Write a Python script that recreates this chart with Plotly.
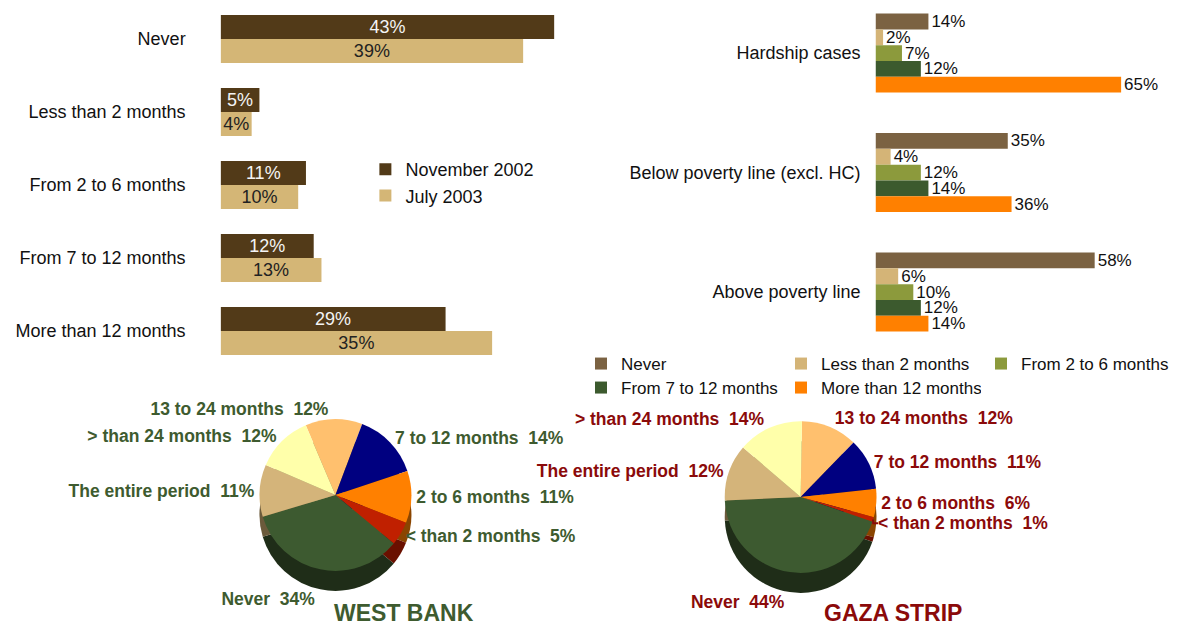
import plotly.graph_objects as go

# ---------------- data ----------------
# Top-left: duration categories, two surveys
duration_cats = ["Never", "Less than 2 months", "From 2 to 6 months",
                 "From 7 to 12 months", "More than 12 months"]
nov_2002 = [43, 5, 11, 12, 29]
jul_2003 = [39, 4, 10, 13, 35]

# Top-right: by poverty status
poverty_cats = ["Hardship cases", "Below poverty line (excl. HC)", "Above poverty line"]
pov_series_names = ["Never", "Less than 2 months", "From 2 to 6 months",
                    "From 7 to 12 months", "More than 12 months"]
pov_never = [14, 35, 58]
pov_lt2 = [2, 4, 6]
pov_2to6 = [7, 12, 10]
pov_7to12 = [12, 14, 12]
pov_gt12 = [65, 36, 14]

# Pies
pie_labels = ["13 to 24 months", "7 to 12 months", "2 to 6 months",
              "< than 2 months", "Never", "The entire period", "> than 24 months"]
west_bank = [12, 14, 11, 5, 34, 11, 12]
gaza_strip = [12, 11, 6, 1, 44, 12, 14]

# ---------------- styles ----------------
FONT = "Liberation Sans, Arial, sans-serif"
W, H = 1181, 626
NOV_COLOR = "#523A18"
JUL_COLOR = "#D4B676"
pov_colors = ["#7B6242", "#D4B477", "#8C9A3C", "#3C5A2E", "#FF8000"]
pie_colors = ["#FFC06E", "#000080", "#FF8000", "#C02000", "#3D5A30", "#D4B47A", "#FFFFAA"]
shadow_colors = ["#8A6A3A", "#00004A", "#8A4500", "#6A1000", "#1F2D18", "#6B5A3B", "#8A8A5A"]
WB_COLOR = "#3E5B2F"
GZ_COLOR = "#8B0A0A"
PIE_LABEL_SIZE = 17.5


def px_x(p):
    return p / W


def px_y(p):
    return 1 - p / H


fig = go.Figure()

# ---- top-left bars ----
fig.add_trace(go.Bar(
    y=duration_cats, x=nov_2002, orientation="h", name="November 2002",
    marker=dict(color=NOV_COLOR, line=dict(width=0)),
    texttemplate="%{x}%", textposition="inside", insidetextanchor="middle",
    textfont=dict(color="#F4F4F4", size=18, family=FONT),
    constraintext="none", xaxis="x", yaxis="y", legend="legend"))
fig.add_trace(go.Bar(
    y=duration_cats, x=jul_2003, orientation="h", name="July 2003",
    marker=dict(color=JUL_COLOR, line=dict(width=0)),
    texttemplate="%{x}%", textposition="inside", insidetextanchor="middle",
    textfont=dict(color="#222222", size=18, family=FONT),
    constraintext="none", xaxis="x", yaxis="y", legend="legend"))

# ---- top-right bars ----
pov_values = [pov_never, pov_lt2, pov_2to6, pov_7to12, pov_gt12]
pov_legends = ["legend2", "legend2", "legend2", "legend3", "legend3"]
for name, vals, col, lg in zip(pov_series_names, pov_values, pov_colors, pov_legends):
    fig.add_trace(go.Bar(
        y=poverty_cats, x=vals, orientation="h", name=name,
        marker=dict(color=col, line=dict(width=0)),
        texttemplate="%{x}%", textposition="outside",
        textfont=dict(color="#111111", size=17, family=FONT),
        constraintext="none", cliponaxis=False,
        xaxis="x2", yaxis="y2", legend=lg))

# ---- pies ----
def pie_domain(cx, cy, r, dy=0):
    return dict(x=[px_x(cx - r), px_x(cx + r)], y=[px_y(cy + dy + r), px_y(cy + dy - r)])


TEMPLATE = "%{label}\u00a0 %{value}%"
# the bottom slice ("Never") is labelled from the depth layer so that its label
# sits below the pie's side; all other slices are labelled from the top face
top_templates = ["" if lab == "Never" else TEMPLATE for lab in pie_labels]
depth_templates = [TEMPLATE if lab == "Never" else "" for lab in pie_labels]

for vals, cx, cy, rot, col in [(west_bank, 336, 495, -23, WB_COLOR),
                               (gaza_strip, 802, 497, 1, GZ_COLOR)]:
    r = 76
    # depth (side) layer
    fig.add_trace(go.Pie(
        labels=pie_labels, values=vals, sort=False, direction="clockwise",
        rotation=rot, domain=pie_domain(cx, cy, r, dy=20),
        marker=dict(colors=shadow_colors, line=dict(width=0)),
        texttemplate=depth_templates, textposition="outside",
        outsidetextfont=dict(color=col, size=PIE_LABEL_SIZE, family=FONT, weight=700),
        hoverinfo="skip", showlegend=False))
    # top face
    fig.add_trace(go.Pie(
        labels=pie_labels, values=vals, sort=False, direction="clockwise",
        rotation=rot, domain=pie_domain(cx, cy, r),
        marker=dict(colors=pie_colors, line=dict(width=0)),
        texttemplate=top_templates, textposition="outside",
        outsidetextfont=dict(color=col, size=PIE_LABEL_SIZE, family=FONT, weight=700),
        showlegend=False))

fig.update_layout(
    width=W, height=H, margin=dict(l=0, r=0, t=0, b=0),
    paper_bgcolor="white", plot_bgcolor="white",
    font=dict(family=FONT, size=18, color="#111111"),
    barmode="group", bargap=0.34, bargroupgap=0,
    xaxis=dict(domain=[px_x(221), px_x(221 + 48 * 7.77)], range=[0, 48],
               visible=False, fixedrange=True),
    yaxis=dict(domain=[px_y(367.5), px_y(2.5)], type="category",
               categoryarray=duration_cats, range=[4.5, -0.5],
               showgrid=False, zeroline=False, showline=False, ticks="",
               ticklabelstandoff=34, tickfont=dict(size=18, color="#111111")),
    xaxis2=dict(domain=[px_x(877), px_x(877 + 75 * 3.785)], range=[0, 75],
                visible=False, anchor="y2"),
    yaxis2=dict(domain=[px_y(352), px_y(5)], type="category", anchor="x2",
                categoryarray=poverty_cats, range=[2.502, -0.402],
                showgrid=False, zeroline=False, showline=False, ticks="",
                ticklabelstandoff=14, tickfont=dict(size=18, color="#111111")),
    legend=dict(x=px_x(366), y=px_y(151), xanchor="left", yanchor="top",
                orientation="v", font=dict(size=18, color="#111111"),
                bgcolor="rgba(0,0,0,0)", traceorder="normal"),
    legend2=dict(x=px_x(582), y=px_y(346), xanchor="left", yanchor="top",
                 orientation="h", font=dict(size=17, color="#111111"),
                 entrywidth=155, entrywidthmode="pixels",
                 bgcolor="rgba(0,0,0,0)"),
    legend3=dict(x=px_x(582), y=px_y(370), xanchor="left", yanchor="top",
                 orientation="h", font=dict(size=17, color="#111111"),
                 entrywidth=155, entrywidthmode="pixels",
                 bgcolor="rgba(0,0,0,0)"),
    annotations=[
        dict(text="WEST BANK", x=px_x(405), y=px_y(613), xref="paper", yref="paper",
             xanchor="center", yanchor="middle", showarrow=False,
             font=dict(size=23, color=WB_COLOR, family=FONT, weight=700)),
        dict(text="GAZA STRIP", x=px_x(895), y=px_y(613), xref="paper", yref="paper",
             xanchor="center", yanchor="middle", showarrow=False,
             font=dict(size=23, color=GZ_COLOR, family=FONT, weight=700)),
    ],
)

fig.write_html("out.html", config={"displayModeBar": False},
               post_script="document.body.style.margin='0px';document.body.style.overflow='hidden';")
